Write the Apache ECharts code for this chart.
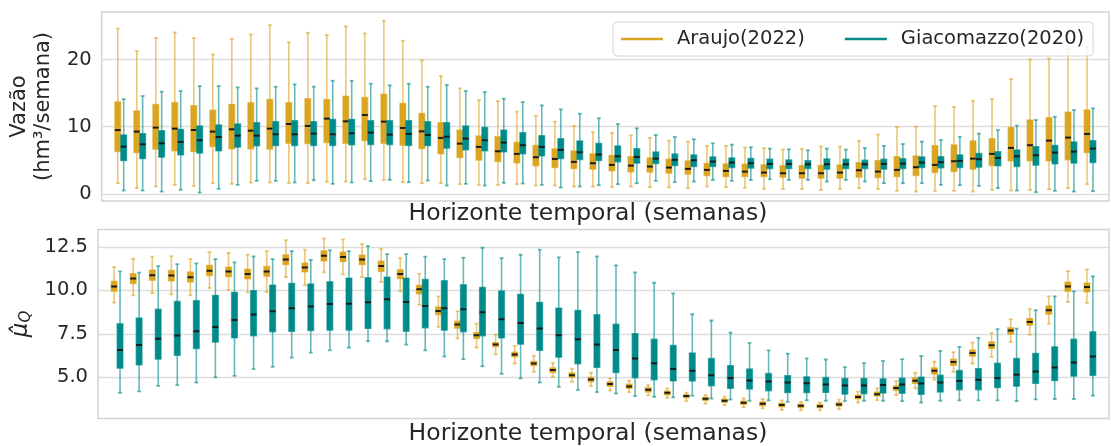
<!DOCTYPE html>
<html>
<head>
<meta charset="utf-8">
<title>Vazão e μQ por semana</title>
<script src="https://cdn.jsdelivr.net/npm/echarts@6/dist/echarts.min.js"></script>
<style>
  html, body { margin: 0; padding: 0; background: #ffffff; }
  #chart { width: 1111px; height: 446px; }
</style>
</head>
<body>
<div id="chart"></div>
<script>
// Semanas do horizonte temporal
const weeks = [1, 2, 3, 4, 5, 6, 7, 8, 9, 10, 11, 12, 13, 14, 15, 16, 17, 18, 19, 20, 21, 22, 23, 24, 25, 26,
  27, 28, 29, 30, 31, 32, 33, 34, 35, 36, 37, 38, 39, 40, 41, 42, 43, 44, 45, 46, 47, 48, 49, 50, 51, 52];

const seriesNames = ['Araujo(2022)', 'Giacomazzo(2020)'];

// Ticks of each panel's y axis
const vazaoTicks = [0, 10, 20];
const muTicks = [5.0, 7.5, 10.0, 12.5];

// Each entry: [min, Q1, mediana, Q3, max]
const vazaoAraujo = [
  [1.60, 6.30, 9.50, 13.70, 24.60], [0.85, 6.15, 9.27, 12.34, 21.25], [1.09, 6.64, 9.86, 13.33, 23.23],
  [1.34, 6.39, 9.71, 13.58, 24.03], [1.19, 6.29, 9.51, 13.13, 23.18], [1.59, 7.04, 9.27, 12.48, 20.76],
  [1.49, 6.69, 9.61, 13.33, 23.08], [1.69, 6.69, 9.41, 13.58, 23.73], [1.69, 6.64, 9.71, 14.07, 25.12],
  [1.59, 7.53, 10.40, 13.58, 22.54], [1.59, 7.48, 10.11, 14.17, 23.98], [1.79, 7.63, 11.20, 14.07, 23.63],
  [1.84, 7.53, 10.80, 14.57, 24.92], [2.18, 7.93, 11.74, 14.37, 23.88], [2.08, 7.53, 10.75, 14.86, 25.76],
  [1.74, 7.24, 9.81, 13.48, 22.79], [1.59, 6.74, 9.31, 11.99, 19.87], [1.59, 5.95, 8.33, 10.60, 17.54],
  [1.44, 5.40, 7.48, 9.51, 15.70], [1.34, 5.01, 6.99, 8.62, 13.97], [1.34, 4.81, 6.34, 8.52, 13.82],
  [1.44, 4.61, 5.95, 7.68, 12.24], [1.24, 4.16, 5.45, 7.24, 11.64], [1.24, 3.92, 5.20, 6.69, 10.75],
  [1.09, 3.77, 4.76, 6.39, 10.11], [1.09, 3.67, 4.56, 5.95, 9.17], [1.04, 3.42, 4.31, 5.75, 9.07],
  [1.09, 3.27, 4.21, 5.55, 8.72], [0.99, 3.22, 4.07, 5.35, 8.33], [0.95, 3.07, 3.92, 5.16, 7.93],
  [0.85, 2.93, 3.72, 4.91, 7.78], [1.09, 2.73, 3.57, 4.56, 7.14], [0.99, 2.58, 3.42, 4.46, 7.14],
  [0.90, 2.58, 3.32, 4.43, 6.92], [0.74, 2.58, 3.17, 4.31, 6.79], [0.74, 2.48, 3.07, 4.21, 6.59],
  [0.74, 2.33, 3.07, 4.21, 6.69], [0.59, 2.33, 3.07, 4.26, 7.04], [0.74, 2.33, 3.17, 4.31, 7.04],
  [0.85, 2.48, 3.52, 4.66, 7.88], [0.74, 2.43, 3.32, 4.96, 8.82], [0.45, 2.58, 3.57, 5.55, 9.96],
  [0.35, 2.73, 3.97, 5.65, 10.01], [0.45, 3.17, 4.31, 7.19, 13.08], [0.45, 3.32, 4.86, 7.29, 12.93],
  [0.35, 3.67, 5.25, 7.88, 13.87], [0.59, 4.21, 5.95, 8.23, 14.12], [0.50, 4.91, 6.84, 9.91, 17.09],
  [0.59, 4.91, 7.24, 11.00, 20.01], [0.69, 4.91, 7.93, 11.35, 20.16], [0.85, 5.06, 8.38, 12.19, 21.60],
  [1.44, 6.15, 8.92, 12.49, 21.90]
];

const vazaoGiacomazzo = [
  [0.50, 4.95, 7.03, 8.77, 14.10], [0.50, 5.25, 7.38, 8.99, 14.57], [0.35, 5.45, 7.53, 9.41, 15.21],
  [0.60, 5.80, 7.73, 9.61, 15.31], [0.20, 6.05, 7.98, 10.11, 16.05], [0.75, 6.39, 8.47, 10.26, 16.05],
  [1.34, 6.94, 8.67, 10.41, 15.85], [1.94, 7.14, 8.67, 10.60, 15.70], [1.94, 7.19, 8.87, 10.75, 15.95],
  [1.69, 7.19, 8.87, 10.90, 16.30], [2.03, 7.19, 8.97, 10.75, 15.95], [1.49, 7.19, 8.87, 11.10, 16.84],
  [1.69, 7.29, 9.02, 11.10, 16.84], [1.89, 7.34, 9.12, 10.90, 16.40], [2.08, 7.34, 8.82, 10.90, 16.15],
  [1.74, 7.19, 8.92, 10.90, 16.40], [1.98, 7.19, 8.77, 10.75, 15.95], [1.24, 6.79, 8.52, 10.60, 16.20],
  [1.49, 6.54, 8.23, 10.11, 15.31], [1.24, 6.39, 7.98, 9.91, 15.16], [1.64, 6.24, 7.63, 9.51, 14.17],
  [1.54, 5.95, 7.24, 9.12, 13.67], [1.34, 5.65, 6.99, 8.67, 13.18], [0.95, 5.25, 6.54, 8.23, 12.58],
  [1.09, 5.11, 6.19, 7.88, 11.94], [1.29, 4.96, 5.85, 7.53, 11.25], [1.44, 4.76, 5.60, 7.14, 10.40],
  [1.59, 4.56, 5.50, 6.74, 9.76], [1.94, 4.51, 5.25, 6.24, 8.77], [1.74, 4.21, 5.06, 5.95, 8.47],
  [1.84, 4.07, 5.01, 5.80, 8.13], [2.08, 4.07, 4.81, 5.50, 7.53], [1.94, 3.92, 4.66, 5.35, 7.33],
  [2.08, 3.82, 4.56, 5.30, 6.94], [2.18, 3.77, 4.46, 5.16, 6.74], [2.08, 3.77, 4.46, 5.06, 6.64],
  [2.08, 3.77, 4.41, 4.96, 6.49], [1.84, 3.67, 4.41, 5.20, 6.74], [2.08, 3.77, 4.41, 5.16, 6.59],
  [1.84, 3.77, 4.41, 5.01, 6.84], [1.59, 3.67, 4.46, 5.16, 7.14], [1.59, 3.77, 4.51, 5.25, 7.43],
  [1.59, 3.92, 4.66, 5.50, 7.78], [1.34, 3.87, 4.71, 5.55, 8.03], [1.29, 3.92, 4.91, 5.80, 8.47],
  [1.19, 3.97, 5.16, 6.05, 8.97], [0.85, 4.16, 5.35, 6.29, 9.51], [0.50, 4.07, 5.60, 6.54, 10.16],
  [0.25, 4.26, 5.75, 7.04, 11.00], [0.45, 4.46, 6.14, 7.24, 11.49], [0.35, 4.56, 6.29, 7.73, 12.49],
  [0.40, 4.66, 6.74, 7.93, 12.73]
];

const muAraujo = [
  [9.30, 9.95, 10.23, 10.52, 11.34], [9.72, 10.39, 10.69, 10.96, 11.82], [9.85, 10.58, 10.87, 11.17, 11.94],
  [9.78, 10.54, 10.85, 11.15, 11.97], [9.72, 10.48, 10.75, 11.06, 11.80], [10.14, 10.85, 11.13, 11.44, 12.20],
  [10.02, 10.79, 11.08, 11.34, 12.15], [9.89, 10.66, 10.94, 11.23, 12.05], [9.91, 10.81, 11.09, 11.38, 12.26],
  [10.77, 11.48, 11.78, 12.05, 12.89], [10.29, 11.06, 11.31, 11.57, 12.34], [11.04, 11.69, 11.99, 12.28, 12.99],
  [10.92, 11.65, 11.92, 12.20, 12.93], [10.77, 11.48, 11.78, 12.03, 12.66], [10.48, 11.09, 11.40, 11.69, 12.39],
  [9.95, 10.67, 10.94, 11.19, 11.86], [9.18, 9.80, 10.06, 10.29, 10.96], [7.90, 8.61, 8.82, 9.05, 9.66],
  [7.25, 7.83, 8.04, 8.23, 8.80], [6.72, 7.23, 7.43, 7.58, 8.09], [6.32, 6.76, 6.89, 7.00, 7.46],
  [5.80, 6.18, 6.32, 6.45, 6.81], [5.32, 5.67, 5.80, 5.93, 6.24], [5.02, 5.28, 5.42, 5.55, 5.84],
  [4.75, 5.00, 5.13, 5.27, 5.51], [4.50, 4.75, 4.88, 5.02, 5.27], [4.25, 4.48, 4.62, 4.75, 4.94],
  [4.16, 4.37, 4.48, 4.62, 4.81], [3.97, 4.16, 4.29, 4.41, 4.56], [3.83, 3.99, 4.12, 4.21, 4.37],
  [3.64, 3.83, 3.93, 4.00, 4.12], [3.49, 3.68, 3.77, 3.85, 3.99], [3.41, 3.56, 3.66, 3.76, 3.89],
  [3.30, 3.45, 3.55, 3.64, 3.79], [3.22, 3.37, 3.49, 3.60, 3.76], [3.14, 3.30, 3.41, 3.53, 3.68],
  [3.11, 3.26, 3.37, 3.47, 3.60], [3.11, 3.26, 3.35, 3.45, 3.56], [3.18, 3.35, 3.45, 3.56, 3.72],
  [3.56, 3.76, 3.87, 3.99, 4.18], [3.70, 3.93, 4.04, 4.16, 4.37], [3.99, 4.25, 4.39, 4.52, 4.79],
  [4.37, 4.65, 4.81, 4.98, 5.27], [4.88, 5.19, 5.38, 5.55, 5.90], [5.32, 5.69, 5.88, 6.05, 6.45],
  [5.80, 6.22, 6.41, 6.58, 7.00], [6.18, 6.66, 6.85, 7.04, 7.56], [7.04, 7.48, 7.69, 7.86, 8.34],
  [7.46, 8.00, 8.19, 8.38, 8.92], [8.09, 8.63, 8.86, 9.11, 9.66], [9.34, 9.95, 10.23, 10.48, 11.11],
  [9.28, 9.91, 10.20, 10.43, 11.21]
];

const muGiacomazzo = [
  [4.12, 5.53, 6.58, 8.09, 11.09], [4.20, 5.72, 6.87, 8.42, 11.02], [4.52, 6.05, 7.22, 8.92, 11.40],
  [4.56, 6.26, 7.41, 9.37, 11.51], [4.71, 6.66, 7.65, 9.41, 11.55], [5.00, 7.02, 7.90, 9.72, 11.80],
  [5.09, 7.27, 8.30, 9.89, 11.61], [5.48, 7.39, 8.61, 9.99, 11.95], [5.61, 7.62, 8.80, 10.31, 11.80],
  [6.14, 7.64, 8.97, 10.41, 12.26], [6.43, 7.69, 9.07, 10.37, 11.76], [6.56, 7.71, 9.22, 10.50, 12.30],
  [6.72, 7.71, 9.24, 10.71, 12.26], [7.08, 7.81, 9.32, 10.73, 12.55], [7.08, 7.79, 9.49, 10.77, 12.09],
  [6.89, 7.65, 9.34, 10.71, 12.09], [6.55, 7.85, 9.11, 10.64, 11.94], [6.20, 7.71, 8.97, 10.56, 11.80],
  [6.05, 7.62, 8.92, 10.33, 11.88], [5.63, 7.39, 8.74, 10.18, 12.45], [5.21, 7.27, 8.34, 9.97, 11.86],
  [4.94, 6.91, 8.13, 9.78, 12.05], [4.71, 6.55, 7.81, 9.32, 12.34], [4.46, 6.16, 7.43, 8.99, 11.90],
  [4.29, 5.78, 7.20, 8.86, 12.20], [4.16, 5.57, 6.89, 8.61, 11.96], [4.08, 5.27, 6.58, 8.06, 11.44],
  [3.93, 4.98, 6.09, 7.52, 11.04], [3.89, 4.86, 5.82, 7.20, 10.44], [3.85, 4.80, 5.49, 6.85, 9.83],
  [3.95, 4.79, 5.38, 6.41, 8.63], [3.79, 4.52, 5.13, 6.09, 8.27], [3.72, 4.37, 4.96, 5.68, 7.58],
  [3.66, 4.33, 4.83, 5.49, 6.98], [3.68, 4.23, 4.77, 5.23, 6.55], [3.60, 4.12, 4.71, 5.11, 6.37],
  [3.68, 4.12, 4.67, 5.04, 6.09], [3.66, 4.14, 4.60, 5.00, 6.03], [3.64, 4.04, 4.54, 4.94, 5.59],
  [3.66, 4.06, 4.54, 4.94, 5.82], [3.66, 4.10, 4.56, 4.92, 5.95], [3.64, 4.08, 4.60, 4.96, 6.05],
  [3.56, 4.02, 4.65, 5.02, 6.24], [3.66, 4.16, 4.71, 5.13, 6.53], [3.68, 4.29, 4.79, 5.40, 6.76],
  [3.68, 4.29, 4.86, 5.51, 7.27], [3.68, 4.41, 4.96, 5.82, 7.77], [3.64, 4.50, 5.15, 6.09, 7.80],
  [3.74, 4.65, 5.34, 6.39, 8.86], [3.76, 4.81, 5.57, 6.76, 9.66], [3.76, 5.07, 5.86, 7.20, 9.95],
  [3.95, 5.11, 6.20, 7.62, 10.81]
];

const FONT = 'DejaVu Sans';
const TEXT = '#262626';
const ORANGE = '#DAA520';
const ORANGE_LINE = 'rgba(218,165,32,0.6)';
const TEAL = '#008B8B';
const TEAL_LINE = 'rgba(0,139,139,0.6)';
const GRID_LINE = '#dddddd';
const FRAME = '#d2d2d2';

const BOX_W = 0.31;   // box width, in weeks
const CAP_W = 0.2;    // whisker cap width, in weeks
const SHIFT = 0.155;  // hue offset from the week centre

// Box-and-whisker glyph drawn through the cartesian coordinate system
function boxRenderer(offset, fill, line) {
  return function (params, api) {
    const x = api.value(0) + offset;
    const band = api.size([1, 0])[0];
    const bw = band * BOX_W;
    const cw = band * CAP_W;
    const cx = api.coord([x, api.value(3)])[0];
    const py = k => api.coord([x, api.value(k)])[1];
    const yMin = py(1), yQ1 = py(2), yMed = py(3), yQ3 = py(4), yMax = py(5);
    return {
      type: 'group',
      children: [
        { type: 'line', shape: { x1: cx, y1: yMin, x2: cx, y2: yMax }, style: { stroke: line, lineWidth: 1.6 } },
        { type: 'line', shape: { x1: cx - cw / 2, y1: yMin, x2: cx + cw / 2, y2: yMin }, style: { stroke: line, lineWidth: 1.8 } },
        { type: 'line', shape: { x1: cx - cw / 2, y1: yMax, x2: cx + cw / 2, y2: yMax }, style: { stroke: line, lineWidth: 1.8 } },
        { type: 'rect', shape: { x: cx - bw / 2, y: yQ3, width: bw, height: yQ1 - yQ3 }, style: { fill: fill, stroke: line, lineWidth: 1.2 } },
        { type: 'line', shape: { x1: cx - bw / 2, y1: yMed, x2: cx + bw / 2, y2: yMed }, style: { stroke: '#1b1b1b', lineWidth: 2 } }
      ]
    };
  };
}

function toData(rows) {
  return rows.map((r, i) => [i, r[0], r[1], r[2], r[3], r[4]]);
}

function boxSeries(name, rows, gridIdx, offset, fill, line) {
  return {
    name: name,
    type: 'custom',
    xAxisIndex: gridIdx,
    yAxisIndex: gridIdx,
    clip: true,
    itemStyle: { color: fill },
    encode: { x: 0, y: [1, 2, 3, 4, 5] },
    renderItem: boxRenderer(offset, fill, line),
    data: toData(rows),
    silent: true
  };
}

function xAxisFor(gridIdx) {
  return {
    type: 'value', gridIndex: gridIdx, min: -1, max: weeks.length,
    axisLine: { show: false }, axisTick: { show: false },
    axisLabel: { show: false }, splitLine: { show: false }
  };
}

function yAxisFor(gridIdx, min, max, ticks, fmt, name, nameStyle, nameGap) {
  return {
    type: 'value', gridIndex: gridIdx, min: min, max: max,
    axisLine: { show: false },
    axisTick: { show: false, customValues: ticks },
    axisLabel: {
      customValues: ticks, formatter: fmt, margin: 10,
      fontFamily: FONT, fontSize: 19.5, color: TEXT
    },
    splitLine: { show: true, lineStyle: { color: GRID_LINE, width: 1.4 } },
    name: name, nameLocation: 'middle', nameRotate: 90, nameGap: nameGap,
    nameTextStyle: nameStyle
  };
}

const chart = echarts.init(document.getElementById('chart'), null, { renderer: 'canvas' });

chart.setOption({
  backgroundColor: '#ffffff',
  animation: false,
  textStyle: { fontFamily: FONT },
  grid: [
    { left: 98, right: 2, top: 12, height: 189, show: true, borderColor: FRAME, borderWidth: 1.5, backgroundColor: 'transparent' },
    { left: 98, right: 2, top: 229.5, height: 189, show: true, borderColor: FRAME, borderWidth: 1.5, backgroundColor: 'transparent' }
  ],
  xAxis: [xAxisFor(0), xAxisFor(1)],
  yAxis: [
    yAxisFor(0, -1.06, 27.07, vazaoTicks, v => String(v),
      'Vazão\n(hm³/semana)',
      { fontFamily: FONT, fontSize: 21, lineHeight: 24, color: TEXT, align: 'center' }, 44),
    yAxisFor(1, 2.64, 13.5, muTicks, v => v.toFixed(1),
      '{mu|μ̂}{q|Q}',
      {
        fontFamily: FONT, color: TEXT,
        rich: {
          mu: { fontFamily: FONT, fontSize: 23, fontStyle: 'italic', color: TEXT },
          q: { fontFamily: FONT, fontSize: 15, fontStyle: 'italic', color: TEXT, verticalAlign: 'bottom', padding: [10, 0, 0, 0] }
        }
      }, 60)
  ],
  legend: {
    left: 613, top: 22,
    orient: 'horizontal',
    data: [
      { name: seriesNames[0], icon: 'rect' },
      { name: seriesNames[1], icon: 'rect' }
    ],
    itemWidth: 42, itemHeight: 2.4, itemGap: 40,
    padding: [6, 9, 6, 8],
    backgroundColor: 'rgba(255,255,255,0.8)',
    borderColor: '#d6d6d6', borderWidth: 1, borderRadius: 4,
    textStyle: { fontFamily: FONT, fontSize: 19.5, color: TEXT, lineHeight: 22, padding: [0, 0, 0, 9] },
    selectedMode: false
  },
  graphic: [
    { type: 'text', x: 588, y: 214, style: { text: 'Horizonte temporal (semanas)', font: '23.5px "DejaVu Sans"', fill: TEXT, align: 'center', verticalAlign: 'middle' } },
    { type: 'text', x: 588, y: 434, style: { text: 'Horizonte temporal (semanas)', font: '23.5px "DejaVu Sans"', fill: TEXT, align: 'center', verticalAlign: 'middle' } }
  ],
  series: [
    boxSeries(seriesNames[0], vazaoAraujo, 0, -SHIFT, ORANGE, ORANGE_LINE),
    boxSeries(seriesNames[1], vazaoGiacomazzo, 0, SHIFT, TEAL, TEAL_LINE),
    boxSeries(seriesNames[0], muAraujo, 1, -SHIFT, ORANGE, ORANGE_LINE),
    boxSeries(seriesNames[1], muGiacomazzo, 1, SHIFT, TEAL, TEAL_LINE)
  ]
});
</script>
</body>
</html>
